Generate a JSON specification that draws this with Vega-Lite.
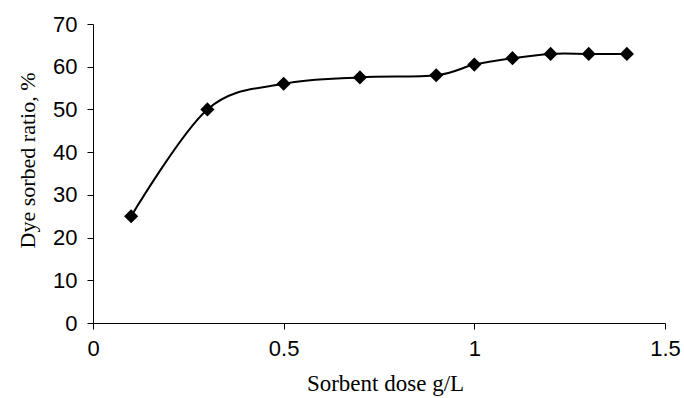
{
  "$schema": "https://vega.github.io/schema/vega-lite/v6.json",
  "width": 572,
  "height": 299,
  "autosize": {"type": "none"},
  "padding": {"left": 93, "top": 24, "right": 19, "bottom": 75},
  "background": "white",
  "data": {"values": [
    {"dose": 0.1, "ratio": 25},
    {"dose": 0.3, "ratio": 50},
    {"dose": 0.5, "ratio": 56},
    {"dose": 0.7, "ratio": 57.5},
    {"dose": 0.9, "ratio": 58},
    {"dose": 1.0, "ratio": 60.5},
    {"dose": 1.1, "ratio": 62},
    {"dose": 1.2, "ratio": 63},
    {"dose": 1.3, "ratio": 63},
    {"dose": 1.4, "ratio": 63}
  ]},
  "encoding": {
    "x": {"field": "dose", "type": "quantitative",
      "scale": {"domain": [0, 1.5], "nice": false},
      "axis": {"values": [0, 0.5, 1, 1.5], "format": "~g", "title": "Sorbent dose g/L", "grid": false,
        "domainColor": "#000", "tickColor": "#000", "tickSize": 6,
        "labelFont": "Liberation Sans", "labelFontSize": 22, "labelColor": "#000", "labelPadding": 9,
        "labelFlush": false,
        "titleFont": "Liberation Serif", "titleFontSize": 23, "titleFontWeight": "normal", "titleColor": "#000", "titlePadding": 13, "titleX": 292}},
    "y": {"field": "ratio", "type": "quantitative",
      "scale": {"domain": [0, 70], "nice": false},
      "axis": {"values": [0, 10, 20, 30, 40, 50, 60, 70], "title": "Dye sorbed ratio, %", "grid": false,
        "domainColor": "#000", "tickColor": "#000", "tickSize": 6,
        "labelFont": "Liberation Sans", "labelFontSize": 22, "labelColor": "#000", "labelPadding": 10,
        "titleFont": "Liberation Serif", "titleFontSize": 22, "titleFontWeight": "normal", "titleColor": "#000", "titlePadding": 13, "titleY": 136}}
  },
  "layer": [
    {"mark": {"type": "line", "interpolate": "cardinal", "color": "#000", "strokeWidth": 2}},
    {"mark": {"type": "point", "shape": "diamond", "filled": true, "color": "#000", "opacity": 1, "size": 200}}
  ],
  "config": {"view": {"stroke": null}}
}
